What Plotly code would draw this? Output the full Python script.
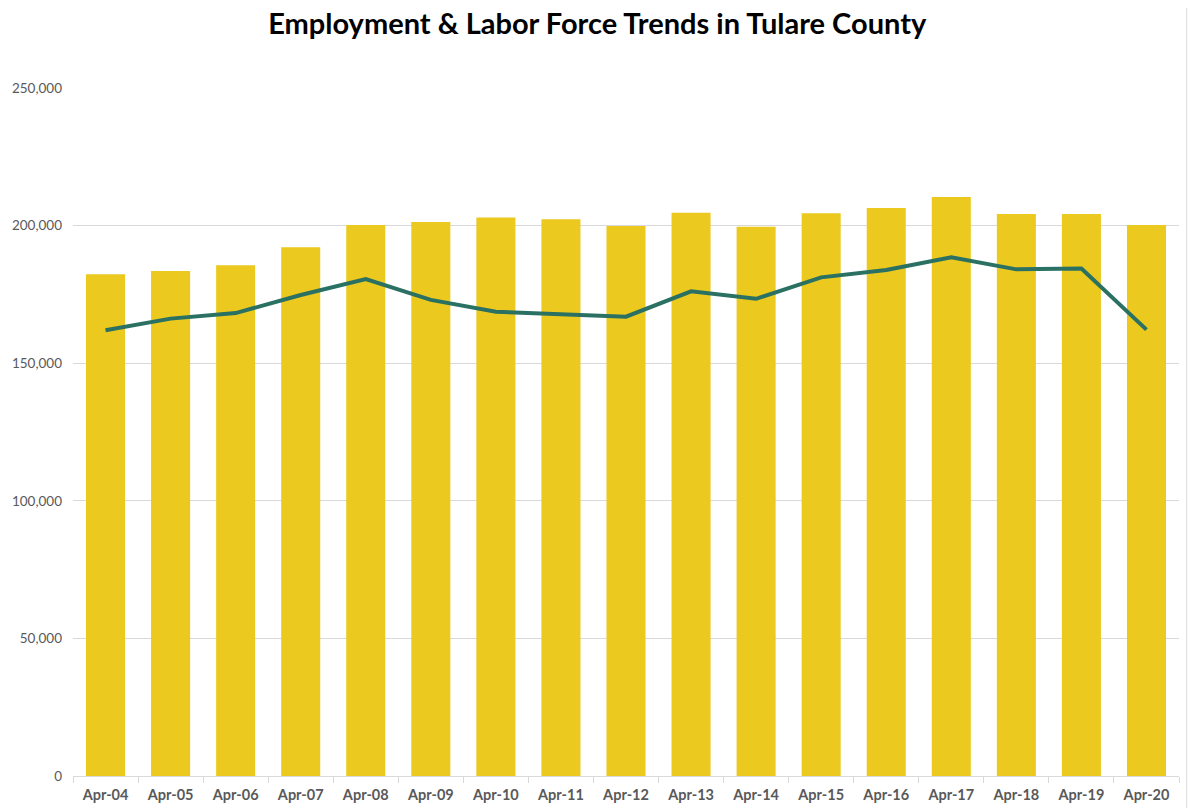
import plotly.graph_objects as go

# --- Dados ---
meses = ["Apr-04", "Apr-05", "Apr-06", "Apr-07", "Apr-08", "Apr-09", "Apr-10", "Apr-11", "Apr-12",
         "Apr-13", "Apr-14", "Apr-15", "Apr-16", "Apr-17", "Apr-18", "Apr-19", "Apr-20"]

forca_trabalho = [182300, 183500, 185600, 192100, 200200, 201300, 202900, 202300, 199900,
                  204700, 199600, 204500, 206400, 210400, 204200, 204200, 200200]

empregados = [162000, 166200, 168200, 174800, 180600, 173000, 168700, 167900, 166900,
              176100, 173400, 181200, 183900, 188500, 184100, 184400, 162200]

cinza = "#595959"

fig = go.Figure()

# barras: força de trabalho
fig.add_trace(go.Bar(
    x=meses, y=forca_trabalho,
    marker=dict(color="#EBC91E", line=dict(width=0)),
    name="Labor Force",
))

# linha: emprego
fig.add_trace(go.Scatter(
    x=meses, y=empregados,
    mode="lines",
    line=dict(color="#2A7163", width=4),
    name="Employment",
))

# a página tem margem de 8px no body, por isso as margens estão compensadas
fig.update_layout(
    width=1200, height=808,
    paper_bgcolor="white", plot_bgcolor="white",
    showlegend=False,
    bargap=0.4,
    margin=dict(l=65, r=29, t=80, b=40),
    font=dict(family="Lato, Liberation Sans, sans-serif", color=cinza),
    title=dict(
        text="<b>Employment & Labor Force Trends in Tulare County</b>",
        x=0.491, xanchor="center", y=0.981, yanchor="middle",
        font=dict(size=29, color="black", family="Lato, sans-serif"),
    ),
)

fig.update_yaxes(
    range=[0, 250000], dtick=50000,
    tickformat=",d",
    showgrid=True, gridcolor="#D9D9D9", gridwidth=1,
    zeroline=False, showline=False,
    ticks="", ticklabelstandoff=10,
    automargin=False,
    tickfont=dict(size=13.5, color=cinza),
)

fig.update_xaxes(
    showgrid=False,
    showline=True, linecolor="#D9D9D9", linewidth=1,
    ticks="outside", tickson="boundaries", ticklen=6, tickcolor="#D9D9D9",
    ticklabelstandoff=6,
    automargin=False,
    tickfont=dict(size=14.5, color=cinza, family="Lato, sans-serif", weight="bold"),
)

# borda cinza à direita do gráfico
fig.add_shape(type="line", xref="paper", yref="paper", x0=1.007, x1=1.007, y0=-0.05, y1=1.13,
              line=dict(color="#D9D9D9", width=1))

fig.write_html("out.html")
